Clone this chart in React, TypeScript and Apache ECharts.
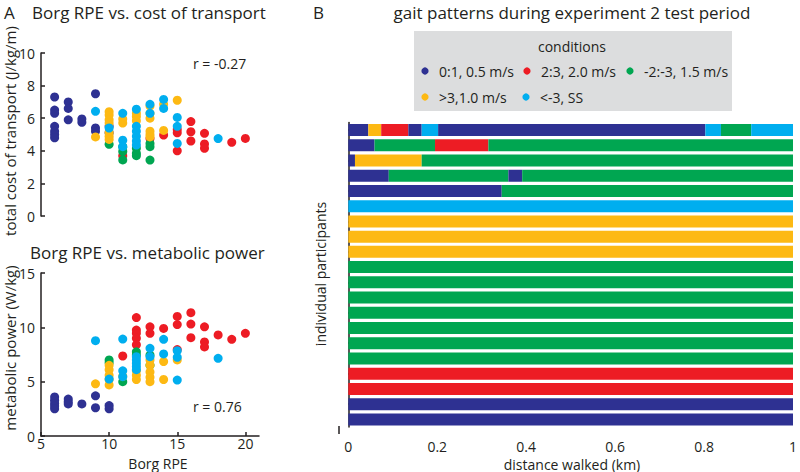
import React, { useEffect, useRef } from "react";
import * as echarts from "echarts";

// ---------- Panel A data: Borg RPE vs. cost of transport (J/kg/m) ----------
const cotNavy = [[6,7.3],[6,6.5],[6,6.3],[6,5.5],[6,5.2],[6,5.0],[6,4.8],[7,7.0],[7,6.6],[7,5.9],[8,5.95],[8,5.75],[9,7.5],[9,5.4],[9,5.2],[10,5.5],[10,5.1]];
const cotRed = [[11,3.7],[13,4.75],[14,4.97],[15,5.3],[15,5.1],[15,4.0],[16,5.79],[16,5.17],[16,4.6],[17,5.07],[17,4.42],[17,4.15],[19,4.52],[20,4.76]];
const cotGreen = [[10,4.4],[11,4.25],[11,3.95],[11,3.44],[12,4.15],[12,3.85],[12,3.7],[13,4.45],[13,4.25],[13,3.43]];
const cotYellow = [[9,4.85],[10,6.4],[10,6.2],[10,5.9],[10,5.7],[10,5.1],[10,4.9],[10,4.7],[11,5.95],[11,5.7],[12,6.3],[12,6.1],[12,5.85],[13,6.75],[13,6.3],[13,6.0],[13,5.2],[13,5.0],[13,4.85],[14,6.85],[14,5.25],[15,7.1]];
const cotBlue = [[9,6.42],[10,5.4],[11,6.3],[11,4.65],[11,4.25],[12,6.55],[12,5.5],[12,5.2],[12,4.9],[12,4.6],[12,4.35],[13,6.85],[13,6.3],[14,7.15],[14,6.6],[15,6.05],[15,5.5],[15,4.45],[18,4.75]];

// ---------- Panel A data: Borg RPE vs. metabolic power (W/kg) ----------
const mpNavy = [[6,3.6],[6,3.3],[6,3.0],[6,2.75],[6,2.5],[7,3.4],[7,3.15],[7,2.95],[8,2.95],[9,3.7],[9,2.6],[10,2.8],[10,2.5]];
const mpRed = [[11,7.36],[12,10.9],[12,9.75],[12,9.45],[12,9.0],[12,8.4],[13,10.05],[13,9.45],[14,9.9],[15,11.0],[15,10.25],[15,7.95],[16,11.35],[16,10.3],[16,9.05],[17,10.05],[17,8.65],[17,8.2],[18,9.3],[19,8.9],[20,9.45]];
const mpGreen = [[10,7.0],[10,6.75],[11,5.0],[12,7.75],[12,7.45],[13,7.45],[13,6.5]];
const mpYellow = [[9,4.8],[10,6.5],[10,6.1],[10,5.6],[10,5.2],[10,4.7],[11,5.5],[12,6.0],[12,5.6],[12,5.2],[13,7.0],[13,6.5],[13,5.9],[13,5.4],[13,5.0],[14,6.85],[14,5.2],[15,7.0]];
const mpBlue = [[9,8.77],[10,5.24],[11,8.92],[11,6.0],[11,5.46],[12,7.3],[12,7.0],[12,6.7],[12,6.4],[12,6.1],[13,8.07],[13,7.3],[14,8.9],[14,7.55],[15,7.85],[15,7.24],[15,5.15],[18,7.15]];

const rCot = "r = -0.27";
const rMp = "r = 0.76";
const borgTicks = [5, 10, 15, 20];

// ---------- Panel B data: gait patterns (condition index, end distance km) ----------
const conditionNames = ["0:1, 0.5 m/s", "2:3, 2.0 m/s", "-2:-3, 1.5 m/s", ">3,1.0 m/s", "<-3, SS"];
const row1 = [[0,0.045],[3,0.074],[1,0.135],[0,0.165],[4,0.202],[0,0.803],[4,0.838],[2,0.906],[4,1.0]];
const row2 = [[0,0.059],[2,0.195],[1,0.315],[2,1.0]];
const row3 = [[0,0.015],[3,0.165],[2,1.0]];
const row4 = [[0,0.091],[2,0.36],[0,0.391],[2,1.0]];
const row5 = [[0,0.345],[2,1.0]];
const singleConditionRows = [4,3,3,3,2,2,2,2,2,2,2,1,1,0,0];
const distanceTicks = [0, 0.2, 0.4, 0.6, 0.8, 1];

// styles
const COLORS = ["#2e3192", "#ed1c24", "#00a651", "#fdb913", "#00aeef"];
const INK = "#231f20";
const FONT = '"Open Sans", sans-serif';

export default function App() {
  const ref = useRef<HTMLDivElement>(null);

  useEffect(() => {
    if (!ref.current) return;
    const chart = echarts.init(ref.current, undefined, { renderer: "svg" });

    const rows: number[][][] = [row1, row2, row3, row4, row5, ...singleConditionRows.map((c) => [[c, 1.0]])];
    const maxSegs = Math.max(...rows.map((r) => r.length));
    const participants = rows.map((_, i) => "P" + (i + 1));

    const barSeries: any[] = [];
    for (let s = 0; s < maxSegs; s++) {
      barSeries.push({
        type: "bar",
        xAxisIndex: 2,
        yAxisIndex: 2,
        stack: "gait",
        barWidth: 12,
        silent: true,
        data: rows.map((r) =>
          r[s]
            ? { value: +(r[s][1] - (s > 0 ? r[s - 1][1] : 0)).toFixed(4), itemStyle: { color: COLORS[r[s][0]] } }
            : "-"
        ),
      });
    }

    const scatter = (data: number[][], color: number, gi: number) => ({
      type: "scatter",
      xAxisIndex: gi,
      yAxisIndex: gi,
      symbolSize: 9,
      itemStyle: { color: COLORS[color], opacity: 1 },
      data,
      silent: true,
    });

    const axisText = { fontFamily: FONT, fontSize: 14, lineHeight: 14, color: INK };
    const lineStyle = { color: INK, width: 1.5 };

    const txt = (text: string, x: number, y: number, size: number, align = "left", rotation = 0) => ({
      type: "text",
      x,
      y,
      rotation,
      style: {
        text,
        fill: INK,
        font: `${size}px ${FONT}`,
        lineHeight: size,
        textAlign: align,
        textVerticalAlign: "middle",
        align,
        verticalAlign: "middle",
      },
    });

    const legendGraphics: any[] = [
      { type: "rect", shape: { x: 414, y: 31, width: 318, height: 80 }, style: { fill: "#dcddde" } },
      txt("conditions", 572, 46, 14, "center"),
    ];
    const legendPos = [[425, 71], [527, 71], [630, 71], [425, 97], [526, 97]];
    conditionNames.forEach((name, c) => {
      const [lx, ly] = legendPos[c];
      legendGraphics.push({ type: "circle", shape: { cx: lx, cy: ly, r: 3.6 }, style: { fill: COLORS[c] } });
      legendGraphics.push(txt(name, lx + 14, ly, 14));
    });

    chart.setOption({
      animation: false,
      grid: [
        { left: 41, top: 53, width: 218, height: 163 },
        { left: 41, top: 273, width: 218, height: 163 },
        { left: 348.3, top: 122.4, width: 449.4, height: 304.6 },
      ],
      xAxis: [
        { type: "value", gridIndex: 0, min: 5, max: 21, interval: 5, show: false },
        {
          type: "value",
          gridIndex: 1,
          min: 5,
          max: 21,
          interval: 5,
          splitLine: { show: false },
          axisLine: { lineStyle },
          axisTick: { inside: true, length: 4, lineStyle, customValues: borgTicks },
          axisLabel: { ...axisText, margin: 0, customValues: borgTicks },
        },
        {
          type: "value",
          gridIndex: 2,
          min: 0,
          max: 1,
          interval: 0.2,
          offset: 7,
          splitLine: { show: false },
          axisLine: { lineStyle },
          axisTick: { inside: true, length: 4, lineStyle, customValues: distanceTicks },
          axisLabel: { ...axisText, margin: 5, customValues: distanceTicks },
        },
      ],
      yAxis: [
        {
          type: "value",
          gridIndex: 0,
          min: 0,
          max: 10,
          interval: 2,
          splitLine: { show: false },
          axisLine: { show: true, lineStyle },
          axisTick: { show: true, inside: true, length: 4, lineStyle },
          axisLabel: { ...axisText, margin: 6 },
        },
        {
          type: "value",
          gridIndex: 1,
          min: 0,
          max: 15,
          interval: 5,
          splitLine: { show: false },
          axisLine: { show: true, lineStyle },
          axisTick: { show: true, inside: true, length: 4, lineStyle },
          axisLabel: { ...axisText, margin: 6 },
        },
        {
          type: "category",
          gridIndex: 2,
          data: participants,
          inverse: true,
          offset: 9.3,
          axisLine: { show: true, lineStyle },
          axisTick: { show: true, inside: true, length: 3, alignWithLabel: true, lineStyle },
          axisLabel: { show: false },
        },
      ],
      series: [
        scatter(cotNavy, 0, 0),
        scatter(cotRed, 1, 0),
        scatter(cotGreen, 2, 0),
        scatter(cotYellow, 3, 0),
        scatter(cotBlue, 4, 0),
        scatter(mpNavy, 0, 1),
        scatter(mpRed, 1, 1),
        scatter(mpGreen, 2, 1),
        scatter(mpYellow, 3, 1),
        scatter(mpBlue, 4, 1),
        ...barSeries,
      ],
      graphic: [
        txt("A", 4, 12, 17),
        txt("Borg RPE vs. cost of transport", 32, 12, 17),
        txt("Borg RPE vs. metabolic power", 30, 252, 17),
        txt("B", 313, 12, 17),
        txt("gait patterns during experiment 2 test period", 572, 12, 17, "center"),
        txt(rCot, 193, 63, 14),
        txt(rMp, 193, 406, 14),
        txt("total cost of transport (J/kg/m)", 10, 131, 15, "center", Math.PI / 2),
        txt("metabolic power (W/kg)", 10, 348, 15, "center", Math.PI / 2),
        txt("individual participants", 320, 274, 14, "center", Math.PI / 2),
        txt("Borg RPE", 158, 463, 14, "center"),
        txt("distance walked (km)", 572, 464, 14, "center"),
        { type: "line", shape: { x1: 339, y1: 426, x2: 339, y2: 434 }, style: { stroke: INK, lineWidth: 1.5 } },
        ...legendGraphics,
      ],
    });

    return () => chart.dispose();
  }, []);

  return <div ref={ref} style={{ width: 800, height: 472, position: "absolute", left: 0, top: 0 }} />;
}
